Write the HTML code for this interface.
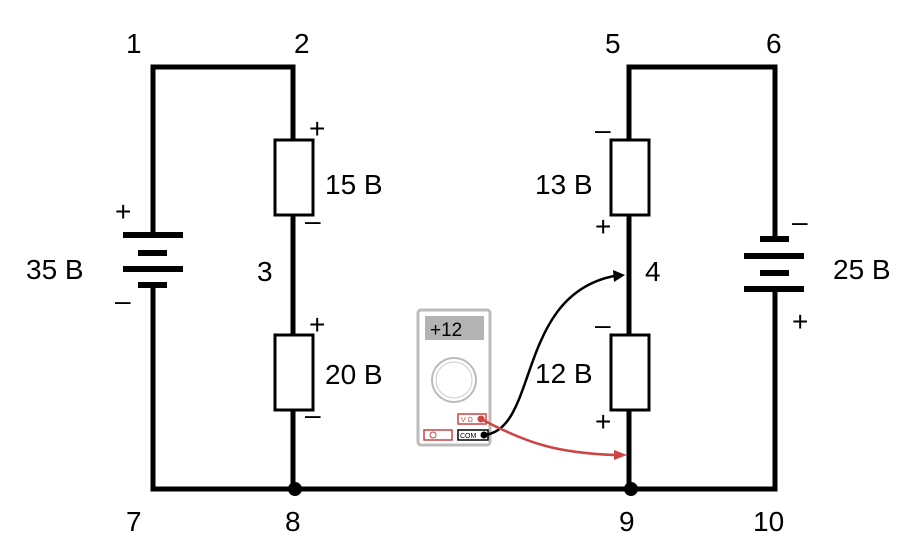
<!DOCTYPE html>
<html><head><style>body{margin:0;background:#fff}svg{display:block}text{font-family:"Liberation Sans",sans-serif;fill:#000}</style></head><body>
<svg width="923" height="554" viewBox="0 0 923 554">
<g stroke="#000" stroke-width="5" fill="none">
<polyline points="153,233 153,67 293,67 293,140"/>
<line x1="293" y1="215" x2="293" y2="335"/>
<line x1="293" y1="410" x2="293" y2="489"/>
<polyline points="153,285 153,489 775,489 775,290"/>
<polyline points="775,237 775,67 629,67 629,140"/>
<line x1="629" y1="215" x2="629" y2="335"/>
<line x1="629" y1="410" x2="629" y2="489"/>
<rect x="275" y="140" width="38" height="75" stroke-width="3" fill="#fff"/>
<rect x="275" y="335" width="38" height="75" stroke-width="3" fill="#fff"/>
<rect x="611" y="140" width="38" height="75" stroke-width="3" fill="#fff"/>
<rect x="611" y="335" width="38" height="75" stroke-width="3" fill="#fff"/>
</g>
<g fill="#000">
<rect x="123" y="232" width="60" height="6"/><rect x="138" y="250" width="29" height="6"/>
<rect x="123" y="266" width="60" height="6"/><rect x="138" y="282" width="29" height="6"/>
<rect x="760" y="236" width="29" height="6"/><rect x="744" y="253" width="60" height="6"/>
<rect x="760" y="270" width="29" height="6"/><rect x="744" y="286" width="60" height="6"/>
<circle cx="295" cy="489" r="7"/><circle cx="631" cy="489" r="7"/>
</g>
<g font-size="28">
<text x="126" y="53">1</text><text x="294" y="53">2</text><text x="605" y="53">5</text><text x="766" y="53">6</text>
<text x="126" y="531">7</text><text x="285" y="531">8</text><text x="619" y="531">9</text><text x="753" y="531">10</text>
<text x="257" y="281">3</text><text x="645" y="281">4</text>
<text x="26" y="279">35 B</text><text x="325" y="194">15 B</text><text x="325" y="384">20 B</text>
<text x="535" y="194">13 B</text><text x="535" y="383">12 B</text><text x="833" y="279">25 B</text>
<text x="115" y="221">+</text><text x="309" y="138">+</text><text x="309" y="334">+</text>
<text x="595" y="236">+</text><text x="595" y="431">+</text><text x="792" y="331">+</text>
<text x="115" y="310">–</text><text x="305" y="230">–</text><text x="305" y="424">–</text>
<text x="595" y="139">–</text><text x="595" y="334">–</text><text x="792" y="231">–</text>
</g>
<rect x="418" y="310" width="72" height="135" rx="3" fill="#fff" stroke="#bbb" stroke-width="3"/>
<rect x="425" y="316" width="59" height="24" fill="#b3b3b3"/>
<text x="430" y="336" font-size="19">+12</text>
<circle cx="454" cy="380" r="22" fill="none" stroke="#bbb" stroke-width="2"/>
<circle cx="454" cy="380" r="18" fill="none" stroke="#ccc" stroke-width="1"/>
<rect x="458" y="414" width="28" height="10" fill="#fff" stroke="#c44" stroke-width="1.5"/>
<text x="461" y="422" font-size="7" style="fill:#c44">V Ω</text>
<circle cx="481" cy="419" r="3.5" fill="#c44"/>
<rect x="424" y="430" width="28" height="10" fill="#fff" stroke="#c44" stroke-width="1.5"/>
<circle cx="433" cy="435" r="3" fill="none" stroke="#c44"/>
<rect x="458" y="430" width="30" height="10" fill="#fff" stroke="#000" stroke-width="1.5"/>
<text x="460" y="438" font-size="7">COM</text>
<circle cx="484" cy="435" r="3.5" fill="#000"/>
<path d="M484,435 C540,430 515,290 620,275" fill="none" stroke="#000" stroke-width="2.5"/>
<polygon points="625,275 613,270 614,282" fill="#000"/>
<path d="M481,419 C530,445 560,453 615,455" fill="none" stroke="#c44" stroke-width="2.5"/>
<polygon points="627,455 614,450 614,460" fill="#c44"/>
</svg>
</body></html>
